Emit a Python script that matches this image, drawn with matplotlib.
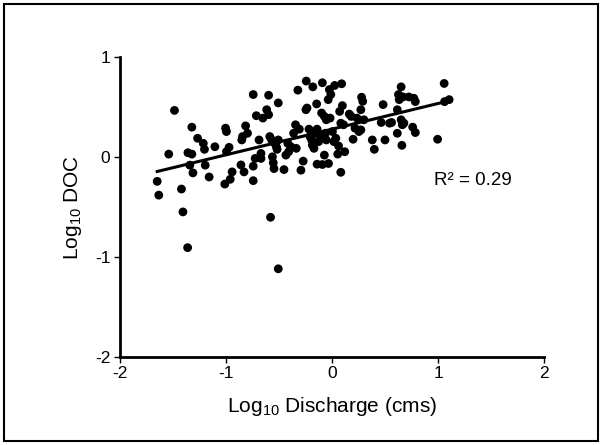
import numpy as np
import matplotlib
matplotlib.use("Agg")
import matplotlib.pyplot as plt
from matplotlib.patches import Rectangle

plt.rcParams['font.family'] = ['Liberation Sans', 'DejaVu Sans']
plt.rcParams['mathtext.fontset'] = 'custom'
plt.rcParams['mathtext.rm'] = 'Liberation Sans'
plt.rcParams['mathtext.it'] = 'Liberation Sans'
plt.rcParams['mathtext.bf'] = 'Liberation Sans'

log_discharge = [
    -1.649, -1.634, -1.540, -1.486, -1.420, -1.406, -1.362, -1.359, -1.322, -1.341,
    -1.322, -1.312, -1.268, -1.214, -1.203, -1.196, -1.159, -1.105, -1.004, -0.996,
    -0.996, -0.971, -1.011, -0.960, -0.942, -0.859, -0.851, -0.844, -0.830, -0.815,
    -0.797, -0.743, -0.743, -0.743, -0.725, -0.714, -0.688, -0.670, -0.670, -0.652,
    -0.616, -0.598, -0.598, -0.587, -0.580, -0.569, -0.562, -0.554, -0.547, -0.540,
    -0.525, -0.518, -0.507, -0.507, -0.507, -0.453, -0.435, -0.417, -0.409, -0.388,
    -0.362, -0.344, -0.337, -0.322, -0.308, -0.293, -0.272, -0.243, -0.246, -0.236,
    -0.217, -0.207, -0.192, -0.181, -0.185, -0.170, -0.156, -0.145, -0.141, -0.141,
    -0.127, -0.109, -0.091, -0.091, -0.098, -0.072, -0.072, -0.062, -0.054, -0.054,
    -0.036, -0.033, -0.025, -0.018, -0.011, 0.004, 0.018, 0.025, 0.036, 0.054,
    0.062, 0.072, 0.083, 0.083, 0.091, 0.098, 0.109, 0.120, 0.163, 0.181,
    0.199, 0.217, 0.236, 0.254, 0.272, 0.279, 0.290, 0.272, 0.301, 0.380,
    0.399, 0.464, 0.482, 0.500, 0.543, 0.562, 0.616, 0.616, 0.627, 0.634,
    0.652, 0.652, 0.663, 0.659, 0.670, 0.678, 0.725, 0.761, 0.772, 0.786,
    0.786, 0.996, 1.058, 1.062, 1.105,
]
log_doc = [
    -0.243, -0.381, 0.030, 0.468, -0.320, -0.549, -0.907, 0.044, 0.030, -0.081,
    0.300, -0.158, 0.189, 0.138, 0.078, -0.081, -0.199, 0.104, 0.290, 0.256,
    0.054, 0.098, -0.270, -0.222, -0.148, -0.078, 0.172, 0.206, -0.148, 0.313,
    0.239, 0.627, -0.091, -0.236, -0.013, 0.415, 0.172, 0.037, -0.013, 0.391,
    0.475, 0.620, 0.425, 0.206, -0.603, 0.172, 0.003, -0.057, -0.115, 0.138,
    0.104, 0.078, 0.543, 0.172, -1.119, -0.125, 0.020, 0.138, 0.054, 0.104,
    0.239, 0.324, 0.088, 0.671, 0.280, -0.131, -0.040, 0.762, 0.475, 0.492,
    0.280, 0.206, 0.172, 0.704, 0.121, 0.088, 0.239, 0.533, 0.280, -0.071,
    0.155, 0.206, 0.745, -0.074, 0.442, 0.408, 0.020, 0.239, 0.374, 0.172,
    0.576, -0.064, 0.677, 0.391, 0.627, 0.256, 0.155, 0.718, 0.189, 0.030,
    0.111, 0.458, 0.340, -0.152, 0.735, 0.516, 0.324, 0.054, 0.431, 0.408,
    0.179, 0.290, 0.391, 0.256, 0.475, 0.600, 0.559, 0.273, 0.374, 0.172,
    0.078, 0.347, 0.526, 0.172, 0.340, 0.347, 0.475, 0.239, 0.627, 0.576,
    0.704, 0.374, 0.324, 0.118, 0.603, 0.340, 0.603, 0.300, 0.590, 0.556,
    0.246, 0.179, 0.738, 0.556, 0.576,
]
x_ticks = [-2, -1, 0, 1, 2]
y_ticks = [-2, -1, 0, 1]
r2_label = "R² = 0.29"

x = np.array(log_discharge)
y = np.array(log_doc)

fig = plt.figure(figsize=(6.02, 4.45), dpi=100)
ax = fig.add_axes([0.1993, 0.1984, 0.9037 - 0.1993, 0.8712 - 0.1984])

ax.scatter(x, y, s=40, color='black', edgecolors='none', zorder=3)

slope, intercept = np.polyfit(x, y, 1)
xl = np.array([x.min(), x.max()])
ax.plot(xl, slope * xl + intercept, color='black', lw=2.2, zorder=4)

ax.set_xlim(-2, 2)
ax.set_ylim(-2, 1)
ax.set_xticks(x_ticks)
ax.set_yticks(y_ticks)
ax.set_xticklabels([str(t) for t in x_ticks])
ax.set_yticklabels([str(t) for t in y_ticks])
for s in ['top', 'right']:
    ax.spines[s].set_visible(False)
for s in ['left', 'bottom']:
    ax.spines[s].set_linewidth(2.0)
ax.tick_params(direction='out', length=4, width=1, labelsize=12.5, pad=3)

ax.set_xlabel("Log$_{10}$ Discharge (cms)", fontsize=15, labelpad=10)
ax.set_ylabel("Log$_{10}$ DOC", fontsize=15, labelpad=8)

ax.text(0.96, -0.23, r2_label, fontsize=13.5, va='center', ha='left')

fig.patches.append(Rectangle((0.006, 0.008), 0.988, 0.984, transform=fig.transFigure,
                             fill=False, edgecolor='black', lw=1.5))

fig.savefig("out.png", dpi=100)
